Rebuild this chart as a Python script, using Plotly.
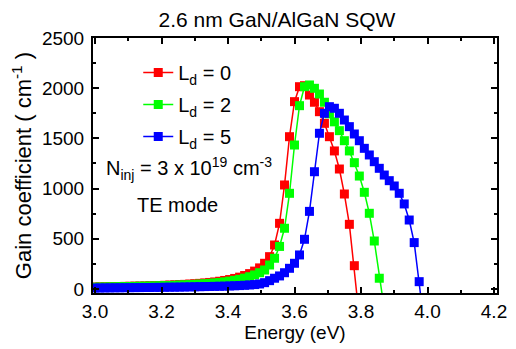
import plotly.graph_objects as go

energies = [3.000, 3.015, 3.030, 3.045, 3.060, 3.075, 3.090, 3.105, 3.120, 3.135,
            3.150, 3.165, 3.180, 3.195, 3.210, 3.225, 3.240, 3.255, 3.270, 3.285,
            3.300, 3.315, 3.330, 3.345, 3.360, 3.375, 3.390, 3.405, 3.420, 3.435,
            3.450, 3.465, 3.480, 3.495, 3.510, 3.525, 3.540, 3.555, 3.570, 3.585,
            3.600, 3.615, 3.630, 3.645, 3.660, 3.675, 3.690, 3.705, 3.720, 3.735,
            3.750, 3.765, 3.780, 3.795, 3.810, 3.825, 3.840, 3.855, 3.870, 3.885,
            3.900, 3.915, 3.930, 3.945, 3.960, 3.975, 3.990]

gain_ld0 = [20, 21, 22, 23, 24, 25, 26, 27, 28, 29,
            30, 32, 33, 35, 37, 39, 41, 43, 46, 49,
            52, 56, 60, 65, 70, 77, 85, 94, 105, 118,
            134, 153, 178, 210, 256, 322, 438, 654, 1036, 1517,
            1866, 2015, 2025, 1932, 1860, 1766, 1650, 1517, 1375, 1195,
            946, 644, 232, -290]

gain_ld2 = [18, 19, 20, 21, 22, 23, 24, 25, 26, 27,
            28, 29, 30, 32, 33, 35, 37, 39, 41, 43,
            46, 49, 52, 56, 60, 65, 71, 78, 86, 96,
            108, 122, 140, 162, 189, 239, 306, 424, 605, 953,
            1434, 1826, 2015, 2032, 1999, 1942, 1860, 1745, 1665, 1577,
            1477, 1375, 1258, 1125, 963, 754, 478, 107, -200]

gain_ld5 = [10, 10, 11, 11, 12, 12, 13, 13, 14, 14,
            15, 15, 16, 16, 17, 18, 18, 19, 20, 21,
            22, 23, 24, 25, 26, 27, 28, 30, 32, 34,
            37, 40, 44, 50, 63, 83, 107, 130, 162, 206,
            256, 339, 495, 773, 1168, 1551, 1750, 1816, 1800, 1750,
            1683, 1617, 1544, 1477, 1401, 1335, 1268, 1202, 1135, 1079,
            1026, 953, 847, 687, 462, 73, -350]

series_names = ["L<sub>d</sub> = 0", "L<sub>d</sub> = 2", "L<sub>d</sub> = 5"]
series_colors = ["#ff0000", "#00ff00", "#0000ff"]
series_values = [gain_ld0, gain_ld2, gain_ld5]

x_ticks = [3.0, 3.2, 3.4, 3.6, 3.8, 4.0, 4.2]
x_tick_labels = ["3.0", "3.2", "3.4", "3.6", "3.8", "4.0", "4.2"]
y_ticks = [0, 500, 1000, 1500, 2000, 2500]
y_tick_labels = ["0", "500", "1000", "1500", "2000", "2500"]

FONT = "Liberation Sans, Arial, sans-serif"

fig = go.Figure()
for i, (name, color, vals) in enumerate(zip(series_names, series_colors, series_values)):
    fig.add_trace(go.Scatter(
        x=energies[:len(vals)], y=vals, name=name, mode="lines+markers",
        legendgroup="g%d" % i,
        line=dict(color=color, width=1.5),
        marker=dict(symbol="square", size=9, color=color),
    ))

axis_common = dict(
    showline=True, linecolor="black", linewidth=2, mirror="allticks",
    ticks="inside", ticklen=6, tickwidth=2, tickcolor="black",
    showgrid=False, zeroline=False, automargin=False,
    tickfont=dict(family=FONT, size=19, color="black"),
)

fig.update_xaxes(
    range=[2.994, 4.209], tickvals=x_ticks, ticktext=x_tick_labels,
    minor=dict(dtick=0.1, ticks="inside", ticklen=3, tickwidth=2, tickcolor="black"),
    title=dict(text="Energy (eV)", font=dict(family=FONT, size=19, color="black"), standoff=2),
    ticklabelstandoff=0,
    **axis_common,
)
fig.update_yaxes(
    range=[-40, 2500], tickvals=y_ticks, ticktext=y_tick_labels,
    minor=dict(dtick=250, ticks="inside", ticklen=3, tickwidth=2, tickcolor="black"),
    title=dict(text="Gain coefficient ( cm<sup>-1</sup> )", font=dict(family=FONT, size=22, color="black"), standoff=5),
    ticklabelstandoff=3,
    **axis_common,
)

fig.update_layout(
    width=508, height=341,
    margin=dict(l=85, r=19, t=30, b=56, autoexpand=False),
    paper_bgcolor="white", plot_bgcolor="white",
    title=dict(text="2.6 nm GaN/AlGaN SQW", x=0.5295, xanchor="center", y=0.965, yanchor="middle",
               font=dict(family=FONT, size=21, color="black")),
    legend=dict(x=0.112, y=0.941, xanchor="left", yanchor="top", bgcolor="rgba(0,0,0,0)",
                font=dict(family=FONT, size=20, color="black"), tracegroupgap=3),
    showlegend=True,
    annotations=[
        dict(text="N<sub>inj</sub> = 3 x 10<sup>19</sup> cm<sup>-3</sup>", xref="paper", yref="paper",
             x=0.027, y=0.49, xanchor="left", yanchor="middle", showarrow=False,
             font=dict(family=FONT, size=20, color="black")),
        dict(text="TE mode", xref="paper", yref="paper", x=0.21, y=0.345,
             xanchor="center", yanchor="middle", showarrow=False,
             font=dict(family=FONT, size=20, color="black")),
    ],
)

fig.write_html("out.html")
